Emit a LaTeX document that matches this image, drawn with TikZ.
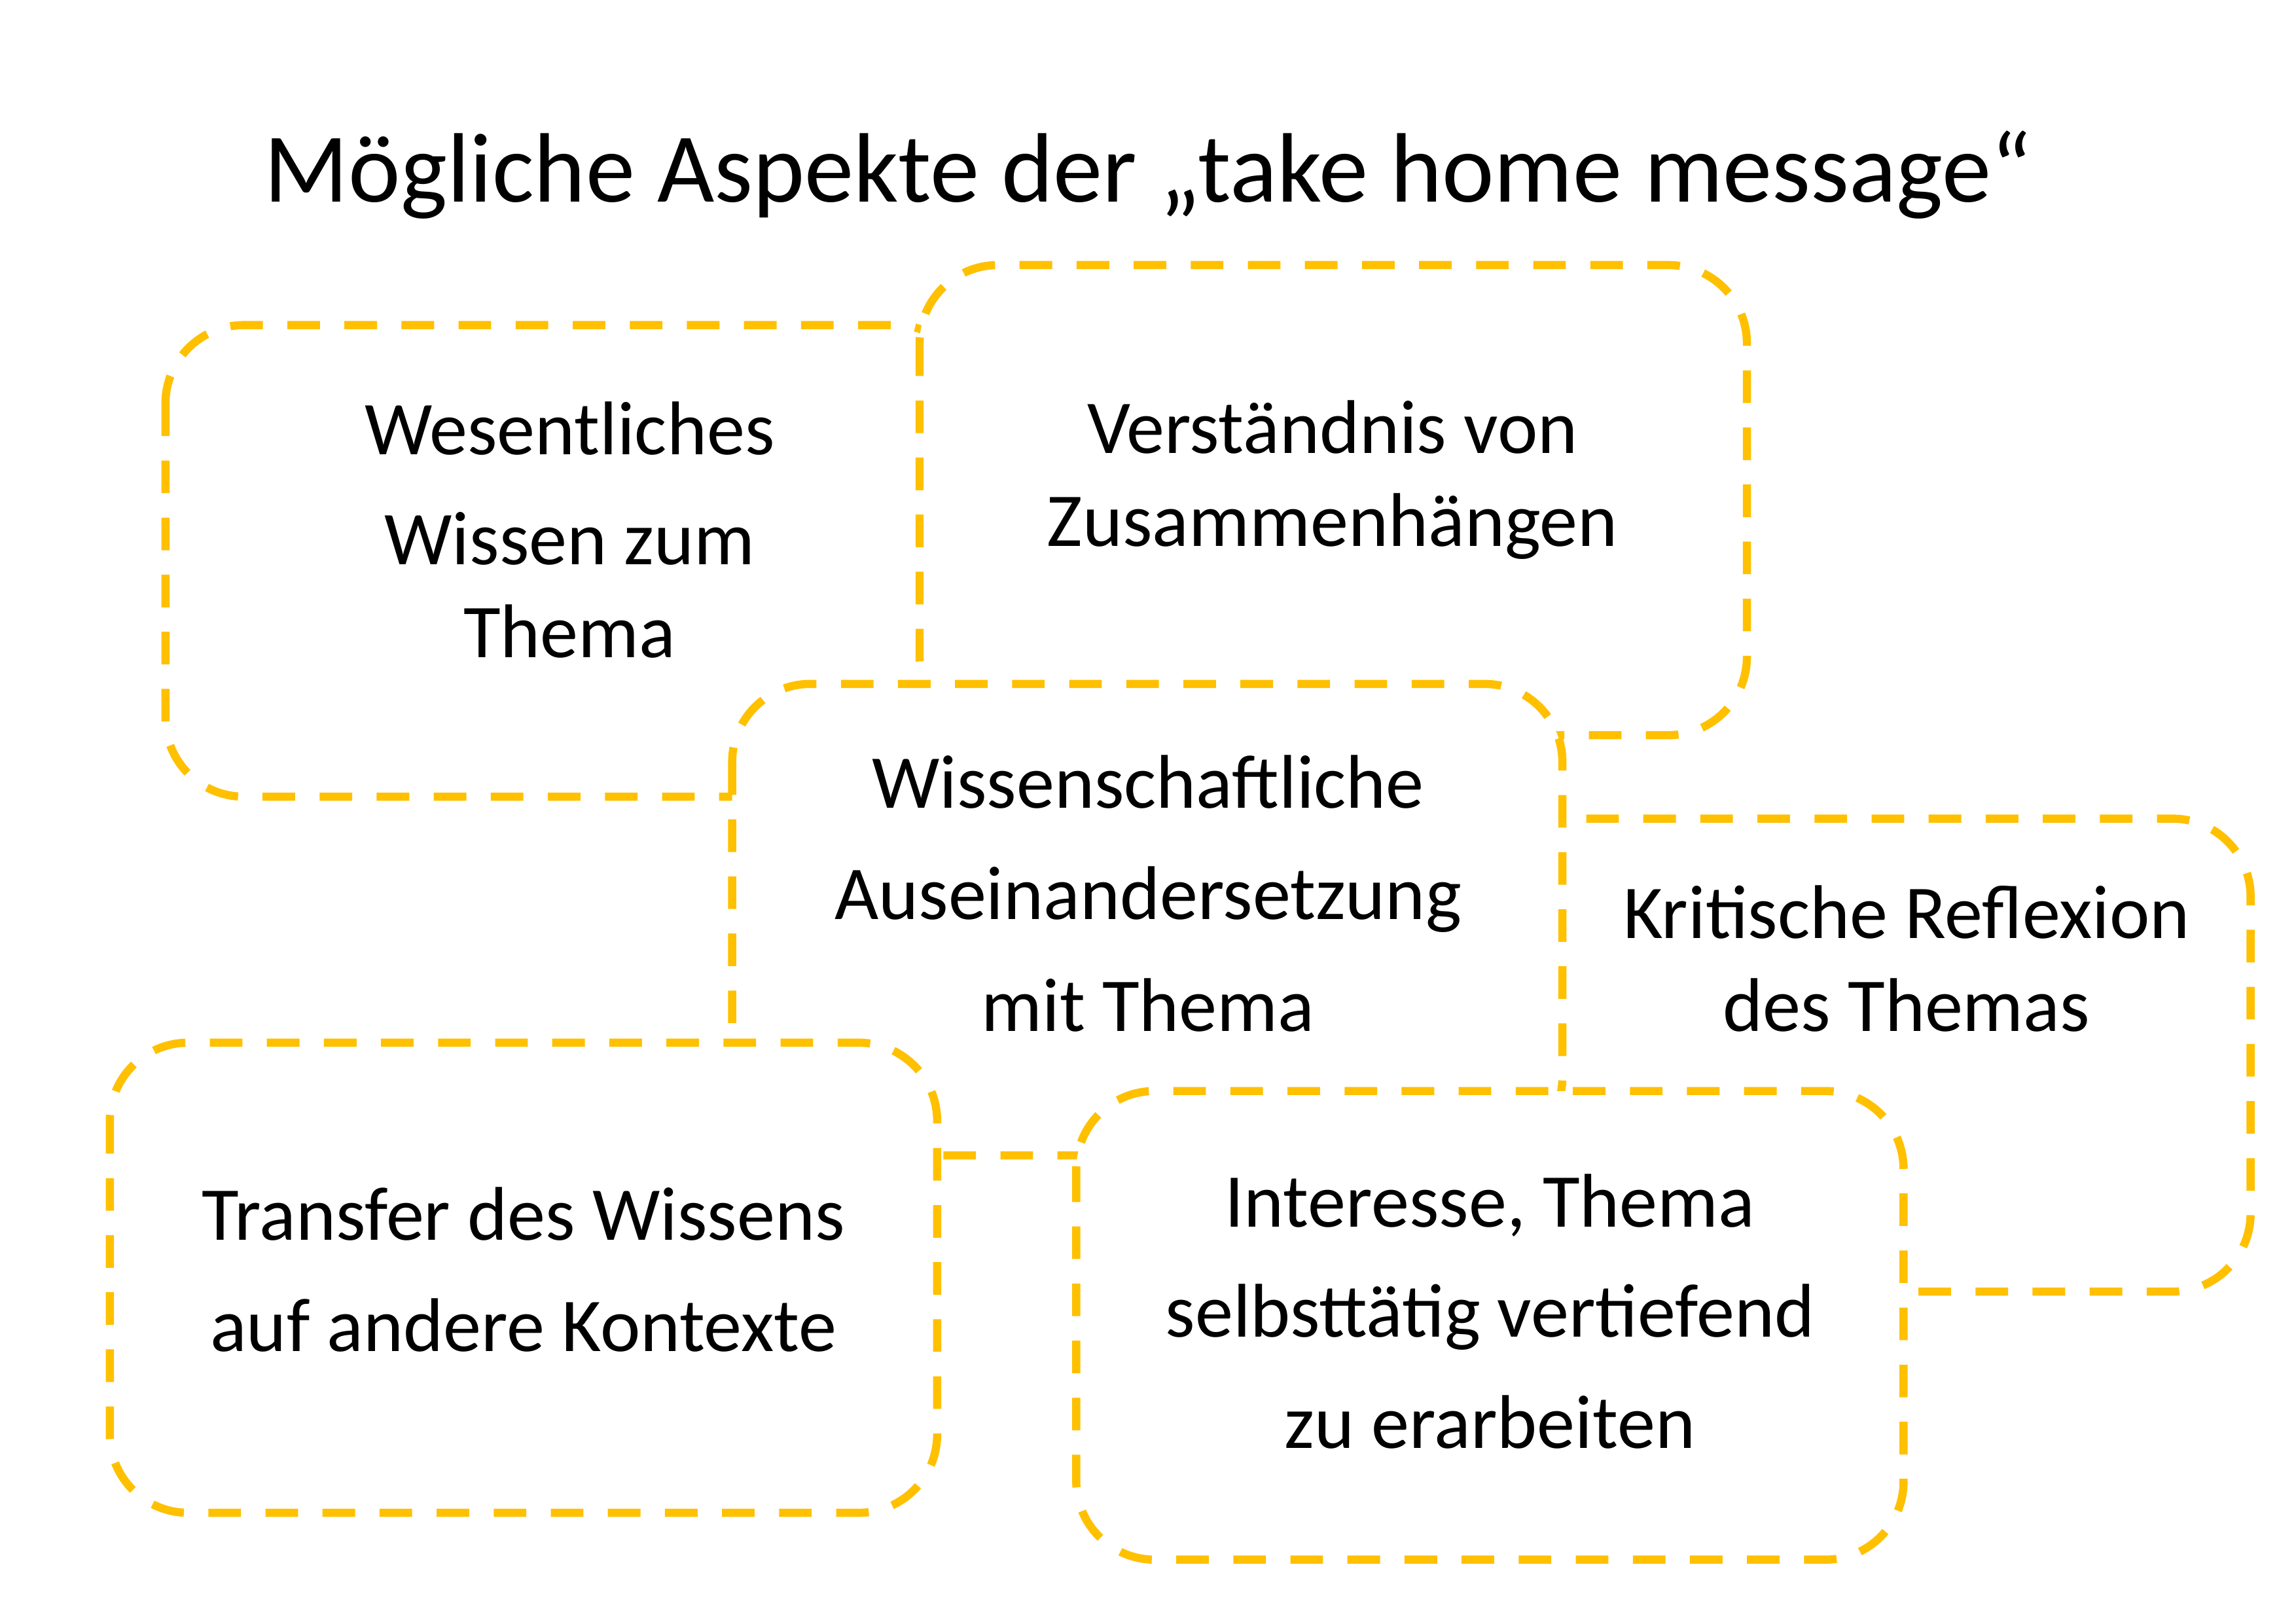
\documentclass[tikz,border=0pt]{standalone}
\usepackage{fontspec}
\setmainfont{Carlito}
\definecolor{boxyellow}{HTML}{FFC000}
\begin{document}
\begin{tikzpicture}[x=0.018941cm,y=-0.018941cm,
  aspect/.style={draw=boxyellow,fill=white,line width=3pt,dash pattern=on 12pt off 9pt,rounded corners=10.13mm},
  aspecttext/.style={align=center,anchor=base,font=\fontsize{28}{34.2}\selectfont,inner sep=0pt},
]
\useasboundingbox (0,0) rectangle (1568,1108.6);
\node[anchor=base,font=\fontsize{36.3}{43}\selectfont,inner sep=0pt] (title) at (784,138) {Mögliche Aspekte der „take home message“};
% box 1
\draw[aspect] (113,222) rectangle (665,544);
\node[aspecttext] (t1) at (389,449) {Wesentliches\\[6.2pt]Wissen zum\\Thema};
% box 2
\draw[aspect] (628,181) rectangle (1193,502);
\node[aspecttext] (t2) at (910,373) {Verständnis von\\Zusammenhängen};
% box 4
\draw[aspect] (972,559) rectangle (1537,882);
\node[aspecttext] (t4) at (1302,704) {Kritische Reflexion\\des Themas};
% box 3
\draw[aspect] (500,467) rectangle (1067,789);
\node[aspecttext] (t3) at (784,704) {Wissenschaftliche\\[6.8pt]Auseinandersetzung\\[6.8pt]mit Thema};
% box 5
\draw[aspect] (75,712) rectangle (640,1033);
\node[aspecttext] (t5) at (357.5,923) {Transfer des Wissens\\[6.8pt]auf andere Kontexte};
% box 6
\draw[aspect] (735,745) rectangle (1300,1065);
\node[aspecttext] (t6) at (1017.5,989) {Interesse, Thema\\[6.2pt]selbsttätig vertiefend\\[6.8pt]zu erarbeiten};
\end{tikzpicture}
\end{document}
